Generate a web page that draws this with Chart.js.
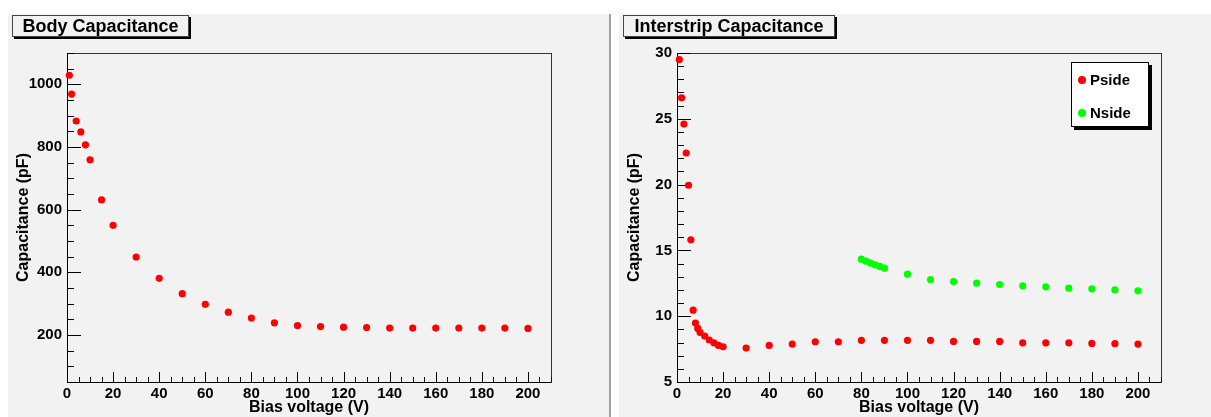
<!DOCTYPE html>
<html><head><meta charset="utf-8">
<script src="https://cdn.jsdelivr.net/npm/chart.js@4/dist/chart.umd.min.js"></script>
<style>
html,body{margin:0;padding:0;background:#fff;width:1211px;height:417px;overflow:hidden;font-family:"Liberation Sans",Arial,Helvetica,sans-serif;}
.pad{position:absolute;background:#f2f2f2;}
#pad1{left:8px;top:14px;width:601px;height:403px;border-right:2px solid #a0a0a0;}
#pad2{left:619px;top:14px;width:592px;height:403px;}
canvas{position:absolute;left:0;top:0;}
.ptitle{position:absolute;top:1px;height:20px;background:#f2f2f2;border:1px solid #444;box-shadow:2px 2px 0 #000;font-weight:bold;font-size:18px;line-height:21px;text-align:center;color:#000;white-space:nowrap;}
#t1{left:4px;width:175px;}
#t2{left:4px;width:210px;}
.legend{position:absolute;left:452px;top:48px;width:76px;height:63px;background:#fff;border:1px solid #000;box-shadow:3px 3px 0 #000;}
.legend .item{position:absolute;left:0;height:20px;font-weight:bold;font-size:15px;line-height:20px;color:#000;}
.legend .dot{position:absolute;left:6px;top:6px;width:8px;height:8px;border-radius:50%;}
.legend .lab{position:absolute;left:18px;top:0;}
</style></head>
<body>
<div class="pad" id="pad1"><canvas id="c1" width="601" height="403"></canvas><div class="ptitle" id="t1">Body Capacitance</div></div>
<div class="pad" id="pad2"><canvas id="c2" width="592" height="403"></canvas><div class="ptitle" id="t2">Interstrip Capacitance</div><div class="legend" id="leg"></div></div>
<script>
// ---- data ----
const bodyVoltage = [1,2,4,6,8,10,15,20,30,40,50,60,70,80,90,100,110,120,130,140,150,160,170,180,190,200];
const bodyCap = [1029,969,883,848,807,759,631,550,449,381,332,298,273,254,239,230,227,225,224,222,222,222,222,222,222,221];

const psideVoltage = [1,2,3,4,5,6,7,8,9,10,12,14,16,18,20,30,40,50,60,70,80,90,100,110,120,130,140,150,160,170,180,190,200];
const psideCap = [29.5,26.6,24.6,22.4,19.95,15.8,10.46,9.48,9.07,8.77,8.49,8.19,7.98,7.78,7.68,7.58,7.78,7.88,8.06,8.06,8.17,8.17,8.17,8.17,8.08,8.08,8.08,7.98,7.98,7.98,7.93,7.91,7.88];

const nsideVoltage = [80,82,84,86,88,90,100,110,120,130,140,150,160,170,180,190,200];
const nsideCap = [14.33,14.18,14.03,13.9,13.78,13.65,13.19,12.79,12.63,12.51,12.41,12.31,12.23,12.13,12.08,12.0,11.93];

const xTickLabels = [0,20,40,60,80,100,120,140,160,180,200];
const bodyYTickLabels = [200,400,600,800,1000];
const stripYTickLabels = [5,10,15,20,25,30];

const xTitle = 'Bias voltage (V)';
const yTitle = 'Capacitance (pF)';
const seriesNames = ['Pside','Nside'];
const seriesColors = ['#ff0000','#00ff00'];

// ---- helpers ----
const FAM = '"Liberation Sans", Arial, Helvetica, sans-serif';
const pts = (xs, ys) => xs.map((x,i)=>({x, y: ys[i]}));

function rootAxesPlugin(cfg){
  return {
    id:'rootAxes',
    beforeDatasetsDraw(chart){
      const {ctx, chartArea:a, scales:{x,y}} = chart;
      ctx.save();
      // frame
      ctx.strokeStyle = '#333'; ctx.lineWidth = 1;
      ctx.strokeRect(Math.round(a.left)+0.5, Math.round(a.top)+0.5, Math.round(a.right-a.left), Math.round(a.bottom-a.top));
      ctx.strokeStyle = '#000';
      ctx.beginPath();
      // x ticks
      for (let v = x.min; v <= x.max + 1e-9; v += cfg.xMinor) {
        const isMajor = cfg.xMajors.includes(Math.round(v*1000)/1000);
        const px = Math.round(x.getPixelForValue(v)) + 0.5;
        const len = isMajor ? 10 : 5;
        ctx.moveTo(px, a.bottom); ctx.lineTo(px, a.bottom - len);
      }
      // y ticks
      let start = Math.ceil(y.min / cfg.yMinor) * cfg.yMinor;
      for (let v = start; v <= y.max + 1e-9; v += cfg.yMinor) {
        const isMajor = cfg.yMajors.includes(Math.round(v*1000)/1000);
        const py = Math.round(y.getPixelForValue(v)) + 0.5;
        const len = isMajor ? 14 : 7;
        ctx.moveTo(a.left, py); ctx.lineTo(a.left + len, py);
      }
      ctx.stroke();
      // axis lines
      ctx.beginPath();
      ctx.moveTo(Math.round(a.left)+0.5, a.top); ctx.lineTo(Math.round(a.left)+0.5, a.bottom+0.5);
      ctx.moveTo(a.left, Math.round(a.bottom)+0.5); ctx.lineTo(a.right, Math.round(a.bottom)+0.5);
      ctx.stroke();
      ctx.restore();
    }
  };
}

function makeChart(id, datasets, opt){
  const canvas = document.getElementById(id);
  const W = canvas.width, H = canvas.height;
  const tickFont = {family: FAM, size: 15, weight: 'bold'};
  const titleFont = {family: FAM, size: 16, weight: 'bold'};
  return new Chart(canvas, {
    type: 'scatter',
    data: { datasets },
    options: {
      responsive: false, animation: false, devicePixelRatio: 1,
      layout: { padding: { left: 0, top: 39, right: W - opt.right, bottom: 0 } },
      plugins: { legend: {display:false}, tooltip: {enabled:false}, title:{display:false} },
      scales: {
        x: {
          type: 'linear', min: 0, max: 210,
          afterBuildTicks: s => { s.ticks = xTickLabels.map(v=>({value:v})); },
          afterFit: s => { s.height = H - 368; },
          grid: {display:false, drawTicks:false}, border: {display:false},
          ticks: {font: tickFont, color:'#000', padding: 3, maxRotation: 0, autoSkip: false, callback: v => String(v)},
          title: {display:true, text: xTitle, font: titleFont, color:'#000', padding:{top:0,bottom:0}}
        },
        y: {
          type: 'linear', min: opt.yMin, max: opt.yMax,
          afterBuildTicks: s => { s.ticks = opt.yTicks.map(v=>({value:v})); },
          afterFit: s => { s.width = opt.left; },
          grid: {display:false, drawTicks:false}, border: {display:false},
          ticks: {font: tickFont, color:'#000', padding: 5, autoSkip: false, callback: v => String(v)},
          title: {display:true, text: yTitle, font: titleFont, color:'#000', padding:{top:6,bottom:0}}
        }
      }
    },
    plugins: [rootAxesPlugin({xMinor:5, xMajors:xTickLabels, yMinor:opt.yMinor, yMajors:opt.yTicks})]
  });
}

const dotStyle = c => ({backgroundColor:c, borderColor:c, borderWidth:0, pointRadius:3.6, pointHoverRadius:3.6, showLine:false, clip:false});

makeChart('c1', [
  Object.assign({label:'Body', data: pts(bodyVoltage, bodyCap)}, dotStyle('#ff0000'))
], {left:59, right:543, yMin:50, yMax:1100, yTicks: bodyYTickLabels, yMinor:50});

makeChart('c2', [
  Object.assign({label:seriesNames[0], data: pts(psideVoltage, psideCap)}, dotStyle(seriesColors[0])),
  Object.assign({label:seriesNames[1], data: pts(nsideVoltage, nsideCap)}, dotStyle(seriesColors[1]))
], {left:58, right:542, yMin:5, yMax:30, yTicks: stripYTickLabels, yMinor:1});

// legend
const leg = document.getElementById('leg');
seriesNames.forEach((n,i)=>{
  const it = document.createElement('div'); it.className='item'; it.style.top = (7 + i*33) + 'px';
  const d = document.createElement('div'); d.className='dot'; d.style.background = seriesColors[i];
  const l = document.createElement('div'); l.className='lab'; l.textContent = n;
  it.appendChild(d); it.appendChild(l); leg.appendChild(it);
});
</script>
</body></html>
